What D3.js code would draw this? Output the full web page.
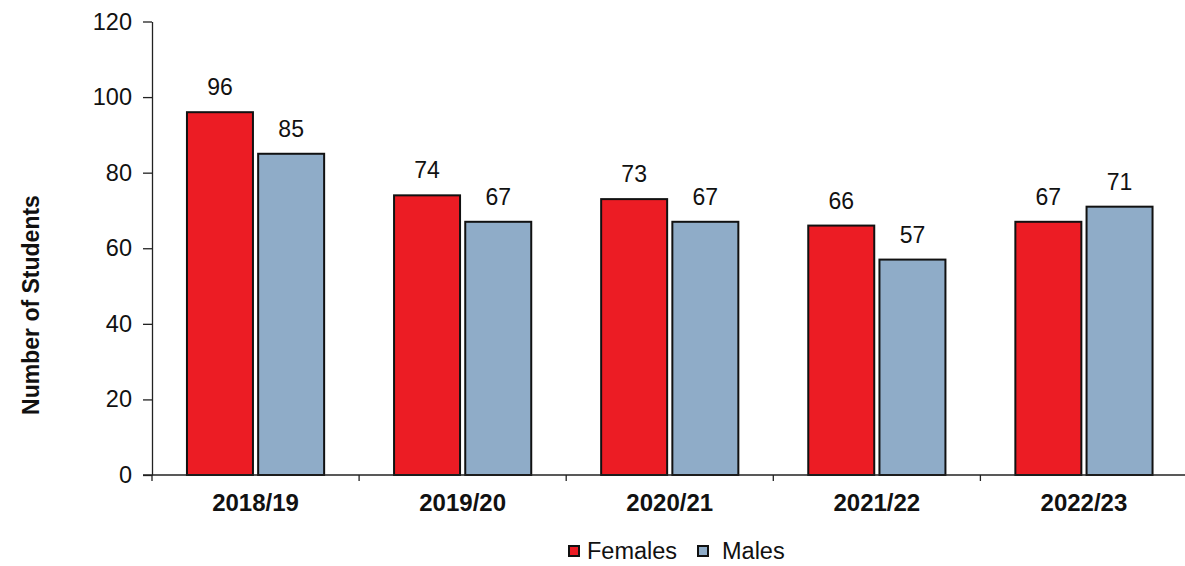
<!DOCTYPE html>
<html>
<head>
<meta charset="utf-8">
<script src="https://cdn.jsdelivr.net/npm/d3@7"></script>
<style>
  html, body { margin: 0; padding: 0; background: #fff; }
  svg { display: block; font-family: "Liberation Sans", Arial, sans-serif; }
</style>
</head>
<body>
<svg id="chart" width="1185" height="566"></svg>
<script>
// Student counts per academic year, split by sex
const years = ["2018/19", "2019/20", "2020/21", "2021/22", "2022/23"];
const seriesNames = ["Females", "Males"];
const females = [96, 74, 73, 66, 67];
const males = [85, 67, 67, 57, 71];
const yTicks = [0, 20, 40, 60, 80, 100, 120];
const colors = ["#EC1C24", "#8FACC8"];

const svg = d3.select("#chart");
const plot = { left: 152, right: 1187.5, top: 21.5, bottom: 475 };

const y = d3.scaleLinear().domain([0, 120]).range([plot.bottom, plot.top]);
const x0 = d3.scaleBand().domain(years).range([plot.left, plot.right]).padding(0);
const x1 = d3.scaleBand().domain(seriesNames).range([0, x0.bandwidth()])
  .paddingInner(0.045).paddingOuter(0.477);
const color = d3.scaleOrdinal().domain(seriesNames).range(colors);

const rows = years.map((yr, i) => ({ year: yr, values: [
  { key: "Females", value: females[i] },
  { key: "Males", value: males[i] }
]}));

// Bars
const groups = svg.append("g").selectAll("g")
  .data(rows).join("g")
  .attr("transform", d => `translate(${x0(d.year)},0)`);

groups.selectAll("rect")
  .data(d => d.values).join("rect")
  .attr("x", d => x1(d.key) + 1)
  .attr("width", x1.bandwidth() - 2)
  .attr("y", d => y(d.value))
  .attr("height", d => y(0) - y(d.value))
  .attr("fill", d => color(d.key))
  .attr("stroke", "#111")
  .attr("stroke-width", 2);

// Value labels above each bar
groups.selectAll("text")
  .data(d => d.values).join("text")
  .attr("x", d => x1(d.key) + x1.bandwidth() / 2)
  .attr("y", d => y(d.value) - 17)
  .attr("text-anchor", "middle")
  .attr("font-size", 23)
  .attr("fill", "#111")
  .text(d => d.value);

// Y axis
const yAxis = d3.axisLeft(y).tickValues(yTicks).tickSize(9).tickPadding(11).tickSizeOuter(0);
const gy = svg.append("g").attr("transform", `translate(${plot.left},0)`).call(yAxis);
gy.select(".domain").attr("stroke", "#222").attr("stroke-width", 1.3);
gy.selectAll(".tick line").attr("stroke", "#222").attr("stroke-width", 1.3);
gy.selectAll(".tick text").attr("font-size", 23.5).attr("fill", "#111")
  .attr("font-family", "Liberation Sans, Arial, sans-serif");

// X axis line with separators between categories
const gx = svg.append("g").attr("transform", `translate(0,${plot.bottom})`);
gx.append("line").attr("x1", plot.left - 9).attr("x2", plot.right)
  .attr("stroke", "#222").attr("stroke-width", 1.3);
const boundaries = years.map(yr => x0(yr));
gx.selectAll("line.sep").data(boundaries).join("line")
  .attr("class", "sep")
  .attr("x1", d => d).attr("x2", d => d)
  .attr("y1", 0).attr("y2", 6)
  .attr("stroke", "#222").attr("stroke-width", 1.3);
gx.selectAll("text").data(years).join("text")
  .attr("x", d => x0(d) + x0.bandwidth() / 2)
  .attr("y", 36)
  .attr("text-anchor", "middle")
  .attr("font-size", 24)
  .attr("font-weight", "bold")
  .attr("fill", "#111")
  .text(d => d);

// Y axis title
svg.append("text")
  .attr("transform", "translate(39,305) rotate(-90)")
  .attr("text-anchor", "middle")
  .attr("font-size", 23)
  .attr("font-weight", "bold")
  .attr("fill", "#111")
  .text("Number of Students");

// Legend
const legendItems = [
  { key: "Females", x: 568, textX: 587 },
  { key: "Males", x: 697, textX: 722 }
];
const lg = svg.append("g");
legendItems.forEach(it => {
  lg.append("rect")
    .attr("x", it.x + 1).attr("y", 546)
    .attr("width", 10).attr("height", 10)
    .attr("fill", color(it.key))
    .attr("stroke", "#111").attr("stroke-width", 2);
  lg.append("text")
    .attr("x", it.textX).attr("y", 559)
    .attr("font-size", 23.5)
    .attr("fill", "#111")
    .text(it.key);
});
</script>
</body>
</html>
